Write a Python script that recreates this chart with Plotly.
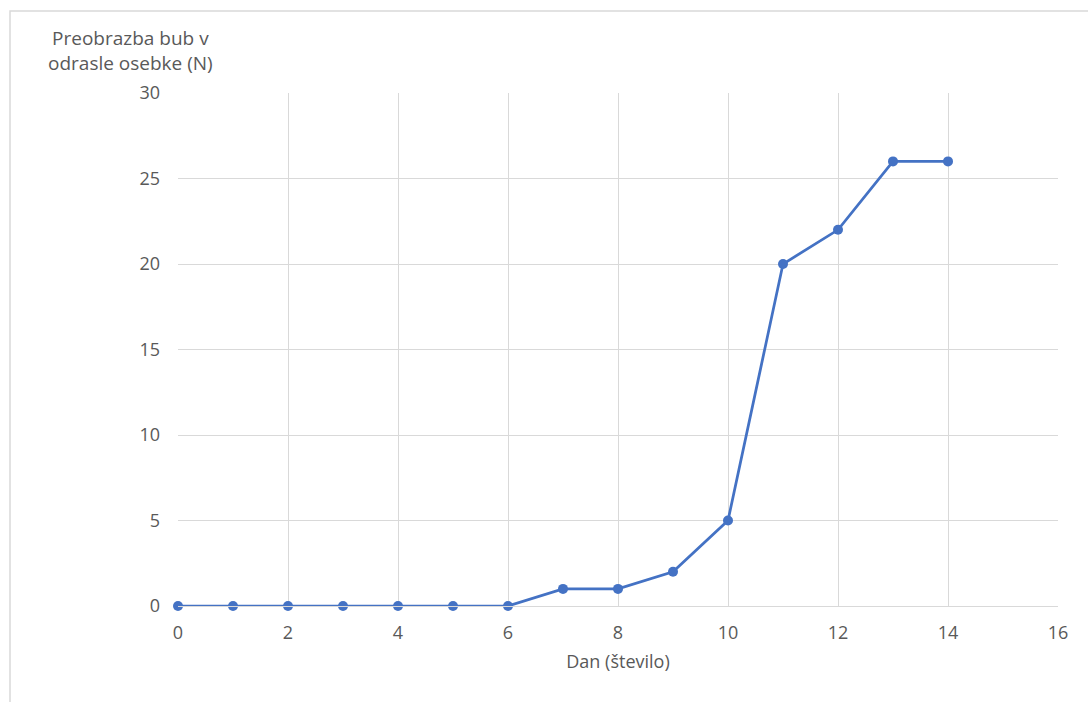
import plotly.graph_objects as go

# Daily count of pupae that emerged as adults
days = [0, 1, 2, 3, 4, 5, 6, 7, 8, 9, 10, 11, 12, 13, 14]
adults = [0, 0, 0, 0, 0, 0, 0, 1, 1, 2, 5, 20, 22, 26, 26]

x_ticks = [0, 2, 4, 6, 8, 10, 12, 14, 16]
y_ticks = [0, 5, 10, 15, 20, 25, 30]

y_title = "Preobrazba bub v<br>odrasle osebke (N)"
x_title = "Dan (število)"

text_color = "#595959"
grid_color = "#d9d9d9"
line_color = "#4472C4"
font_family = "Open Sans, Arial, sans-serif"

fig = go.Figure()
fig.add_trace(go.Scatter(
    x=days,
    y=adults,
    mode="lines+markers",
    line=dict(color=line_color, width=2.75),
    marker=dict(color=line_color, size=10),
    showlegend=False,
    cliponaxis=False,
))

fig.update_layout(
    width=1088,
    height=702,
    margin=dict(l=178, r=30, t=93, b=96),
    paper_bgcolor="white",
    plot_bgcolor="white",
    font=dict(family=font_family, size=18, color=text_color),
    xaxis=dict(
        range=[0, 16],
        tickvals=x_ticks,
        showgrid=True,
        gridcolor=grid_color,
        gridwidth=1,
        zeroline=False,
        showline=True,
        linecolor=grid_color,
        linewidth=1,
        ticks="",
        ticklabelstandoff=10,
        tickfont=dict(size=18, color=text_color),
        title=dict(text=x_title, font=dict(size=18, color=text_color), standoff=12),
    ),
    yaxis=dict(
        range=[0, 30],
        tickvals=y_ticks,
        showgrid=True,
        gridcolor=grid_color,
        gridwidth=1,
        zeroline=False,
        showline=False,
        ticks="",
        ticklabelstandoff=17,
        tickfont=dict(size=18, color=text_color),
    ),
    annotations=[dict(
        text=y_title,
        xref="paper", yref="paper",
        x=-0.0545, y=1.082,
        xanchor="center", yanchor="middle",
        showarrow=False,
        align="center",
        font=dict(size=19, color=text_color),
    )],
    shapes=[dict(
        type="rect",
        xref="paper", yref="paper",
        x0=-0.1909, x1=1.06, y0=-0.21, y1=1.1598,
        line=dict(color="#d9d9d9", width=1.5),
        fillcolor="rgba(0,0,0,0)",
        layer="below",
    )],
)

fig.write_html("out.html")
